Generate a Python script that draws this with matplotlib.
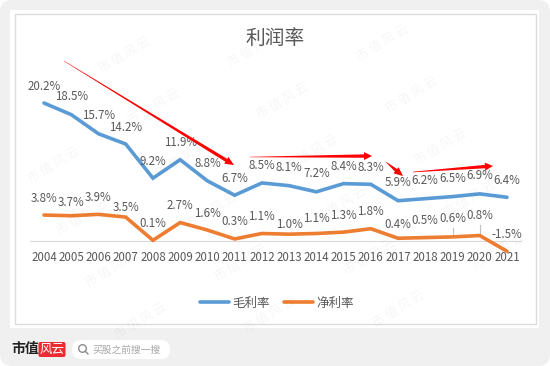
import numpy as np
import matplotlib
matplotlib.use("Agg")
import matplotlib.pyplot as plt
from matplotlib.patches import FancyBboxPatch, Polygon, Rectangle, Circle

plt.rcParams['font.family'] = ['Noto Sans CJK SC', 'DejaVu Sans']

years = list(range(2004, 2022))
gross_margin = [20.2, 18.5, 15.7, 14.2, 9.2, 11.9, 8.8, 6.7, 8.5, 8.1, 7.2, 8.4, 8.3, 5.9, 6.2, 6.5, 6.9, 6.4]
net_margin = [3.8, 3.7, 3.9, 3.5, 0.1, 2.7, 1.6, 0.3, 1.1, 1.0, 1.1, 1.3, 1.8, 0.4, 0.5, 0.6, 0.8, -1.5]

# label offset above the point, in pixels
gross_offsets = [17, 18, 18, 17, 17, 17, 17, 17, 17, 18, 18, 17, 17, 18, 18, 18, 18, 17]
net_offsets = [17, 13, 17, 10, 17, 17, 17, 17, 17, 10, 15, 17, 17, 14, 17, 18, 20, 17]

BLUE = "#5b9bd5"
ORANGE = "#ed7d31"
TEXT = "#595959"
W, H = 550, 366


def tapered_arrow(ax, start, end, tail=0.3, shaft=3.0, head=8.0, head_len=8.0):
    p0 = np.array(start, dtype=float)
    p1 = np.array(end, dtype=float)
    d = (p1 - p0) / np.linalg.norm(p1 - p0)
    n = np.array([-d[1], d[0]])
    neck = p1 - d * head_len
    pts = [p0 + n * tail / 2, neck + n * shaft / 2, neck + n * head / 2, p1,
           neck - n * head / 2, neck - n * shaft / 2, p0 - n * tail / 2]
    ax.add_patch(Polygon(pts, closed=True, fc="#ff0000", ec="none", zorder=6))


fig = plt.figure(figsize=(W / 100, H / 100), dpi=100, facecolor="white")

# page background in pixel coordinates
bg = fig.add_axes([0, 0, 1, 1])
bg.set_xlim(0, W)
bg.set_ylim(H, 0)
bg.axis("off")
bg.add_patch(FancyBboxPatch((0, 0), W, H, boxstyle="round,pad=0,rounding_size=12", fc="#f0f0f0", ec="none"))
bg.add_patch(Rectangle((10, 10), 529, 318, fc="white", ec="none"))
bg.add_patch(Rectangle((15, 13.5), 521, 310.5, fc="white", ec="#dcdcdc", lw=1))

# chart area
left, right = 30.4, 520.6
top, bottom = 70, 275
ax = fig.add_axes([left / W, 1 - bottom / H, (right - left) / W, (bottom - top) / H])
ax.patch.set_alpha(0)
per_unit = 6.83
ax.set_xlim(2003.5, 2021.5)
ax.set_ylim((241 - bottom) / per_unit, (241 - top) / per_unit)
ax.plot(years, gross_margin, color=BLUE, lw=2.6, label="毛利率", solid_capstyle="round", solid_joinstyle="miter", zorder=3)
ax.plot(years, net_margin, color=ORANGE, lw=2.6, label="净利率", solid_capstyle="round", solid_joinstyle="miter", zorder=3)

for values, offsets in [(gross_margin, gross_offsets), (net_margin, net_offsets)]:
    for year, val, off in zip(years, values, offsets):
        ax.annotate(f"{val:.1f}%", (year, val), xytext=(0, off * 0.72), textcoords="offset points",
                    ha="center", va="center", fontsize=8.3, color=TEXT, zorder=5)

# leader lines of the two dragged labels
for year, val, length in [(2019, 0.6, 9), (2020, 0.8, 11)]:
    ax.plot([year, year], [val, val + length / per_unit], color="#bfbfbf", lw=0.8, zorder=2)

for side in ["top", "left", "right"]:
    ax.spines[side].set_visible(False)
ax.spines["bottom"].set_position(("data", 0))
ax.spines["bottom"].set_color("#d9d9d9")
ax.set_yticks([])
ax.set_xticks(years)
ax.set_xticklabels([str(y) for y in years])
ax.tick_params(axis="x", length=0, pad=7, labelsize=8.3, labelcolor=TEXT)

fig.text(275 / W, 1 - 38 / H, "利润率", ha="center", va="center", fontsize=14.2, color=TEXT)
ax.legend(loc="center", bbox_to_anchor=(277 / W, 1 - 303 / H), bbox_transform=fig.transFigure, ncol=2,
          frameon=False, fontsize=9, labelcolor=TEXT, handlelength=2.3, handletextpad=0.3, columnspacing=1.1)

# red arrows
over = fig.add_axes([0, 0, 1, 1])
over.set_xlim(0, W)
over.set_ylim(H, 0)
over.axis("off")
tapered_arrow(over, (64, 61), (234, 165), tail=0.4, shaft=3.4, head=8, head_len=9)
tapered_arrow(over, (250, 157), (372, 156), tail=0.4, shaft=3.4, head=8, head_len=8)
tapered_arrow(over, (386, 162), (403, 176), tail=0.4, shaft=3.4, head=8, head_len=9)
tapered_arrow(over, (413, 172), (493, 166), tail=0.6, shaft=3.4, head=8, head_len=8)

# watermark tiles, only the ones fully on the page
for i in range(-2, 6):
    for j in range(-2, 7):
        x = 125 + 129 * i + 29 * j
        y = 55 - 6 * i + 52 * j
        if 38 < x < W - 38 and 26 < y < H - 26:
            over.text(x, y, "市 值 风 云", rotation=31, ha="center", va="center", fontsize=9,
                      color="black", alpha=0.04, zorder=8)

# footer
over.text(11, 349, "市值", ha="left", va="center", fontsize=10, color="#222222", fontweight="bold")
over.add_patch(FancyBboxPatch((38.5, 342), 27, 15, boxstyle="round,pad=0,rounding_size=2", fc="#ee2a32", ec="none"))
over.text(52, 349.5, "风云", ha="center", va="center", fontsize=9, color="white", style="italic")
over.add_patch(FancyBboxPatch((72, 340), 98, 19, boxstyle="round,pad=0,rounding_size=9", fc="white", ec="none"))
over.add_patch(Circle((82.5, 348.5), 3.8, fc="none", ec="#8c8c8c", lw=1))
over.plot([85.3, 88], [351.3, 354], color="#8c8c8c", lw=1)
over.text(92, 349.5, "买股之前搜一搜", ha="left", va="center", fontsize=7, color="#a6a6a6")

fig.savefig("out.png", dpi=100)
